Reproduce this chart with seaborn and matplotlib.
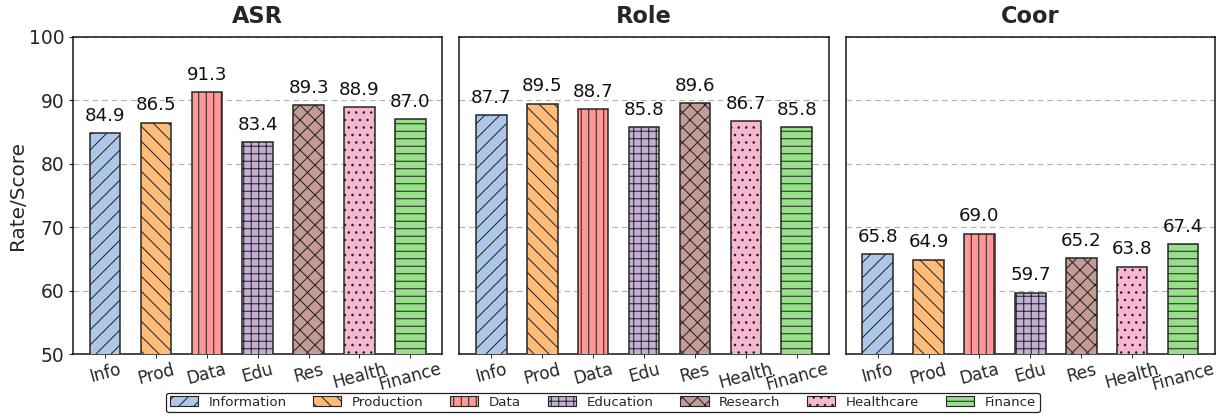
import numpy as np
import pandas as pd
import matplotlib
matplotlib.use("Agg")
import matplotlib.pyplot as plt
import seaborn as sns
from matplotlib.patches import Patch

# Domain short names (x tick labels) and full names (legend)
categories = ["Info", "Prod", "Data", "Edu", "Res", "Health", "Finance"]
full_names = ["Information", "Production", "Data", "Education", "Research", "Healthcare", "Finance"]

# Metric values per domain
asr_values = [84.9, 86.5, 91.3, 83.4, 89.3, 88.9, 87.0]
role_values = [87.7, 89.5, 88.7, 85.8, 89.6, 86.7, 85.8]
coor_values = [65.8, 64.9, 69.0, 59.7, 65.2, 63.8, 67.4]

panel_titles = ["ASR", "Role", "Coor"]
panel_values = [asr_values, role_values, coor_values]

colors = ["#aec7e8", "#ffbb78", "#ff9896", "#c5b0d5", "#c49c94", "#f7b6d2", "#98df8a"]
hatches = ["//", "\\\\", "||", "++", "xx", "..", "--"]

sns.set_theme(style="white")
plt.rcParams["font.family"] = ["DejaVu Sans"]
plt.rcParams["hatch.linewidth"] = 0.8

DPI = 90
fig, axes = plt.subplots(1, 3, figsize=(1223 / DPI, 419 / DPI), dpi=DPI, sharey=True)
fig.subplots_adjust(left=0.0597, right=0.9935, top=0.9117, bottom=0.155, wspace=0.046)

edge = "#222222"
for ax, title, vals in zip(axes, panel_titles, panel_values):
    df = pd.DataFrame({"cat": categories, "val": vals})
    sns.barplot(data=df, x="cat", y="val", hue="cat", palette=colors,
                saturation=1, width=0.6, edgecolor=edge, linewidth=1.2,
                legend=False, ax=ax, zorder=3)
    for patch, h in zip(ax.patches, hatches):
        patch.set_hatch(h)
    for cont in ax.containers:
        ax.bar_label(cont, fmt="%.1f", padding=6.5, fontsize=14.6, color="#111111")
    ax.set_xlim(-0.63, 6.63)
    ax.set_ylim(50, 100)
    ax.set_yticks([50, 60, 70, 80, 90, 100])
    ax.set_title(title, fontsize=18, fontweight="bold", pad=11)
    ax.set_xlabel("")
    ax.set_ylabel("")
    ax.yaxis.grid(True, linestyle=(0, (5, 3.5)), color="#b0b0b0", linewidth=0.9)
    ax.set_axisbelow(True)
    for s in ax.spines.values():
        s.set_visible(True)
        s.set_color("#111111")
        s.set_linewidth(1.2)
    ax.tick_params(axis="x", labelsize=13.5, rotation=15, length=3, width=0.8,
                   color="#333333", bottom=True, pad=2)
    ax.tick_params(axis="y", labelsize=15, length=3.5, width=1.0, left=True,
                   color="#333333")

for ax in axes[1:]:
    ax.tick_params(axis="y", left=False, labelleft=False)

axes[0].set_ylabel("Rate/Score", fontsize=16, labelpad=1)

handles = [Patch(facecolor=c, edgecolor=edge, hatch=h, linewidth=0.9, label=n)
           for c, h, n in zip(colors, hatches, full_names)]
fig.legend(handles=handles, loc="lower center", bbox_to_anchor=(0.493, 0.0),
           ncol=7, fontsize=10.7, frameon=True, edgecolor="#222222",
           fancybox=True, borderpad=0.25, handlelength=2.1, handleheight=0.8,
           handletextpad=0.8, columnspacing=2.0, framealpha=1.0)

fig.savefig("out.png", dpi=DPI)
